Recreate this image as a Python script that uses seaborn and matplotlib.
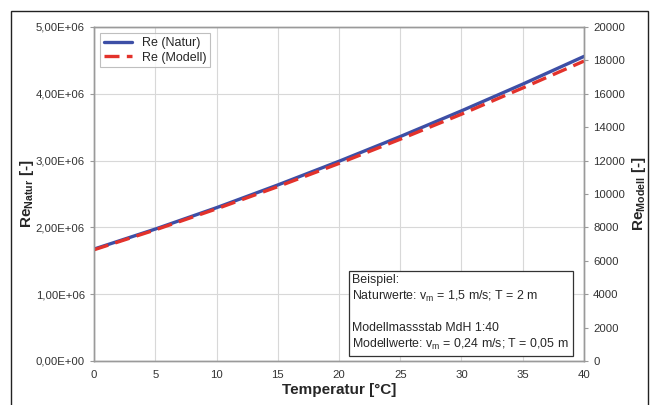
import pandas as pd
import matplotlib
matplotlib.use("Agg")
import matplotlib.pyplot as plt
from matplotlib.ticker import FuncFormatter, MultipleLocator
from matplotlib.patches import Rectangle
import seaborn as sns

# Daten
temperatur = [0, 5, 10, 15, 20, 25, 30, 35, 40]
re_natur = [1.675e6, 1.975e6, 2.295e6, 2.635e6, 2.990e6, 3.360e6, 3.745e6, 4.145e6, 4.560e6]
re_modell = [6660, 7850, 9110, 10440, 11830, 13280, 14780, 16350, 17960]

df = pd.DataFrame({"T": temperatur, "natur": re_natur, "modell": re_modell})

sns.set_style("white")
plt.rcParams["font.family"] = ["Liberation Sans", "DejaVu Sans"]

fig = plt.figure(figsize=(6.59, 4.05), dpi=100)
ax = fig.add_axes([94 / 659, 1 - 361 / 405, (584 - 94) / 659, (361 - 27) / 405])
ax2 = ax.twinx()

blau = "#3d4fa6"
rot = "#e3322b"

sns.lineplot(data=df, x="T", y="natur", ax=ax, color=blau, linewidth=2.4,
             label="Re (Natur)", legend=False, zorder=3)
sns.lineplot(data=df, x="T", y="modell", ax=ax2, color=rot, linewidth=2.4,
             linestyle=(0, (4.5, 2.2)), label="Re (Modell)", legend=False, zorder=2)

ax.set_xlim(0, 40)
ax.set_ylim(0, 5e6)
ax2.set_ylim(0, 20000)
ax.xaxis.set_major_locator(MultipleLocator(5))
ax.yaxis.set_major_locator(MultipleLocator(1e6))
ax2.yaxis.set_major_locator(MultipleLocator(2000))
ax.yaxis.set_major_formatter(FuncFormatter(lambda v, p: f"{v:.2E}".replace(".", ",")))

ax.grid(True, color="#d8d8d8", linewidth=0.8)
ax.set_axisbelow(True)
for a in (ax, ax2):
    for s in a.spines.values():
        s.set_color("#9a9a9a")
        s.set_linewidth(1.0)
    a.tick_params(labelsize=8.2, colors="#333333", length=3, width=0.8)
    a.tick_params(axis="both", color="#9a9a9a")

ax.set_xlabel("Temperatur [°C]", fontsize=11, fontweight="bold", labelpad=2)
ax.set_ylabel(r"Re$_{\mathregular{Natur}}$ [-]", fontsize=11, fontweight="bold")
ax.yaxis.set_label_coords(-0.118, 0.5)
ax2.set_ylabel(r"Re$_{\mathregular{Modell}}$ [-]", fontsize=11, fontweight="bold",
               rotation=90)
ax2.yaxis.set_label_coords(1.094, 0.5)

h1, l1 = ax.get_legend_handles_labels()
h2, l2 = ax2.get_legend_handles_labels()
leg = ax2.legend(h1 + h2, l1 + l2, loc="upper left", fontsize=9, frameon=True,
                 fancybox=False, edgecolor="#b0b0b0", borderaxespad=0.5,
                 handlelength=2.2, borderpad=0.3, labelspacing=0.2)
leg.get_frame().set_linewidth(0.8)

info = ("Beispiel:\n"
        r"Naturwerte: v$_\mathregular{m}$ = 1,5 m/s; T = 2 m" "\n\n"
        "Modellmassstab MdH 1:40\n"
        r"Modellwerte: v$_\mathregular{m}$ = 0,24 m/s; T = 0,05 m")
ax2.text(0.527, 0.027, info, transform=ax2.transAxes, fontsize=8.9, va="bottom",
         ha="left", linespacing=1.3,
         bbox=dict(boxstyle="square,pad=0.3", facecolor="white", edgecolor="#333333",
                   linewidth=0.9))

# Rahmen um die Grafik
fig.patches.append(Rectangle((11 / 659, -0.02), (648 - 11) / 659, 1 - 11 / 405 + 0.02,
                             transform=fig.transFigure, fill=False,
                             edgecolor="#222222", linewidth=1.0))

fig.savefig("out.png", dpi=100)
